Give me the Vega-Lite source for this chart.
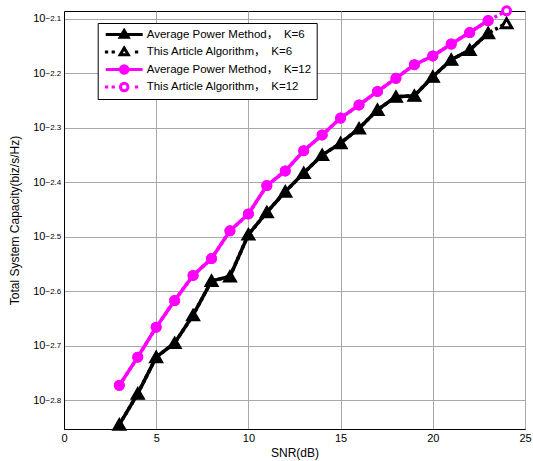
{
 "$schema": "https://vega.github.io/schema/vega-lite/v6.json",
 "width": 461, "height": 418,
 "autosize": {"type": "none"},
 "padding": {"left": 64, "top": 11, "right": 8, "bottom": 32},
 "background": "white",
 "datasets": {"pts": [
  {"snr":3,"series":"Average Power Method，　K=6","capacity":0.001429},
  {"snr":4,"series":"Average Power Method，　K=6","capacity":0.001629},
  {"snr":5,"series":"Average Power Method，　K=6","capacity":0.001901},
  {"snr":6,"series":"Average Power Method，　K=6","capacity":0.002018},
  {"snr":7,"series":"Average Power Method，　K=6","capacity":0.002270},
  {"snr":8,"series":"Average Power Method，　K=6","capacity":0.002624},
  {"snr":9,"series":"Average Power Method，　K=6","capacity":0.002673},
  {"snr":10,"series":"Average Power Method，　K=6","capacity":0.003192},
  {"snr":11,"series":"Average Power Method，　K=6","capacity":0.003508},
  {"snr":12,"series":"Average Power Method，　K=6","capacity":0.003828},
  {"snr":13,"series":"Average Power Method，　K=6","capacity":0.004140},
  {"snr":14,"series":"Average Power Method，　K=6","capacity":0.004467},
  {"snr":15,"series":"Average Power Method，　K=6","capacity":0.004699},
  {"snr":16,"series":"Average Power Method，　K=6","capacity":0.005000},
  {"snr":17,"series":"Average Power Method，　K=6","capacity":0.005408},
  {"snr":18,"series":"Average Power Method，　K=6","capacity":0.005715},
  {"snr":19,"series":"Average Power Method，　K=6","capacity":0.005741},
  {"snr":20,"series":"Average Power Method，　K=6","capacity":0.006223},
  {"snr":21,"series":"Average Power Method，　K=6","capacity":0.006683},
  {"snr":22,"series":"Average Power Method，　K=6","capacity":0.006966},
  {"snr":23,"series":"Average Power Method，　K=6","capacity":0.007482},
  {"snr":3,"series":"This Article Algorithm，　K=6","capacity":0.001429},
  {"snr":4,"series":"This Article Algorithm，　K=6","capacity":0.001629},
  {"snr":5,"series":"This Article Algorithm，　K=6","capacity":0.001901},
  {"snr":6,"series":"This Article Algorithm，　K=6","capacity":0.002018},
  {"snr":7,"series":"This Article Algorithm，　K=6","capacity":0.002270},
  {"snr":8,"series":"This Article Algorithm，　K=6","capacity":0.002624},
  {"snr":9,"series":"This Article Algorithm，　K=6","capacity":0.002673},
  {"snr":10,"series":"This Article Algorithm，　K=6","capacity":0.003192},
  {"snr":11,"series":"This Article Algorithm，　K=6","capacity":0.003508},
  {"snr":12,"series":"This Article Algorithm，　K=6","capacity":0.003828},
  {"snr":13,"series":"This Article Algorithm，　K=6","capacity":0.004140},
  {"snr":14,"series":"This Article Algorithm，　K=6","capacity":0.004467},
  {"snr":15,"series":"This Article Algorithm，　K=6","capacity":0.004699},
  {"snr":16,"series":"This Article Algorithm，　K=6","capacity":0.005000},
  {"snr":17,"series":"This Article Algorithm，　K=6","capacity":0.005408},
  {"snr":18,"series":"This Article Algorithm，　K=6","capacity":0.005715},
  {"snr":19,"series":"This Article Algorithm，　K=6","capacity":0.005741},
  {"snr":20,"series":"This Article Algorithm，　K=6","capacity":0.006223},
  {"snr":21,"series":"This Article Algorithm，　K=6","capacity":0.006683},
  {"snr":22,"series":"This Article Algorithm，　K=6","capacity":0.006966},
  {"snr":23,"series":"This Article Algorithm，　K=6","capacity":0.007482},
  {"snr":24,"series":"This Article Algorithm，　K=6","capacity":0.007798},
  {"snr":3,"series":"Average Power Method，　K=12","capacity":0.001687},
  {"snr":4,"series":"Average Power Method，　K=12","capacity":0.001901},
  {"snr":5,"series":"Average Power Method，　K=12","capacity":0.002158},
  {"snr":6,"series":"Average Power Method，　K=12","capacity":0.002415},
  {"snr":7,"series":"Average Power Method，　K=12","capacity":0.002685},
  {"snr":8,"series":"Average Power Method，　K=12","capacity":0.002884},
  {"snr":9,"series":"Average Power Method，　K=12","capacity":0.003243},
  {"snr":10,"series":"Average Power Method，　K=12","capacity":0.003483},
  {"snr":11,"series":"Average Power Method，　K=12","capacity":0.003926},
  {"snr":12,"series":"Average Power Method，　K=12","capacity":0.004178},
  {"snr":13,"series":"Average Power Method，　K=12","capacity":0.004550},
  {"snr":14,"series":"Average Power Method，　K=12","capacity":0.004864},
  {"snr":15,"series":"Average Power Method，　K=12","capacity":0.005224},
  {"snr":16,"series":"Average Power Method，　K=12","capacity":0.005521},
  {"snr":17,"series":"Average Power Method，　K=12","capacity":0.005848},
  {"snr":18,"series":"Average Power Method，　K=12","capacity":0.006180},
  {"snr":19,"series":"Average Power Method，　K=12","capacity":0.006546},
  {"snr":20,"series":"Average Power Method，　K=12","capacity":0.006792},
  {"snr":21,"series":"Average Power Method，　K=12","capacity":0.007145},
  {"snr":22,"series":"Average Power Method，　K=12","capacity":0.007499},
  {"snr":23,"series":"Average Power Method，　K=12","capacity":0.007889},
  {"snr":3,"series":"This Article Algorithm，　K=12","capacity":0.001687},
  {"snr":4,"series":"This Article Algorithm，　K=12","capacity":0.001901},
  {"snr":5,"series":"This Article Algorithm，　K=12","capacity":0.002158},
  {"snr":6,"series":"This Article Algorithm，　K=12","capacity":0.002415},
  {"snr":7,"series":"This Article Algorithm，　K=12","capacity":0.002685},
  {"snr":8,"series":"This Article Algorithm，　K=12","capacity":0.002884},
  {"snr":9,"series":"This Article Algorithm，　K=12","capacity":0.003243},
  {"snr":10,"series":"This Article Algorithm，　K=12","capacity":0.003483},
  {"snr":11,"series":"This Article Algorithm，　K=12","capacity":0.003926},
  {"snr":12,"series":"This Article Algorithm，　K=12","capacity":0.004178},
  {"snr":13,"series":"This Article Algorithm，　K=12","capacity":0.004550},
  {"snr":14,"series":"This Article Algorithm，　K=12","capacity":0.004864},
  {"snr":15,"series":"This Article Algorithm，　K=12","capacity":0.005224},
  {"snr":16,"series":"This Article Algorithm，　K=12","capacity":0.005521},
  {"snr":17,"series":"This Article Algorithm，　K=12","capacity":0.005848},
  {"snr":18,"series":"This Article Algorithm，　K=12","capacity":0.006180},
  {"snr":19,"series":"This Article Algorithm，　K=12","capacity":0.006546},
  {"snr":20,"series":"This Article Algorithm，　K=12","capacity":0.006792},
  {"snr":21,"series":"This Article Algorithm，　K=12","capacity":0.007145},
  {"snr":22,"series":"This Article Algorithm，　K=12","capacity":0.007499},
  {"snr":23,"series":"This Article Algorithm，　K=12","capacity":0.007889},
  {"snr":24,"series":"This Article Algorithm，　K=12","capacity":0.008220}
 ]},
 "data": {"name": "pts"},
 "layer": [
  {
   "transform": [{"filter": "datum.snr < 0"}],
   "mark": {"type": "point", "filled": true, "size": 100, "strokeWidth": 3, "opacity": 1},
   "encoding": {
    "x": {"field": "snr", "type": "quantitative", "title": "SNR(dB)", "scale": {"domain": [0, 25], "nice": false, "zero": false}, "axis": {"values": [0, 5, 10, 15, 20, 25]}},
    "y": {"field": "capacity", "type": "quantitative", "scale": {"type": "log", "domain": [0.0014028, 0.008215], "nice": false}, "axis": null},
    "shape": {"field": "series", "type": "nominal", "legend": {"title": null},
     "scale": {"domain": ["Average Power Method，　K=6", "This Article Algorithm，　K=6", "Average Power Method，　K=12", "This Article Algorithm，　K=12"],
      "range": [
       "M-3.7,0H3.7M0,-0.8L0.8,0.55L-0.8,0.55Z",
       "M-3.86,0H-3.2M-2.52,0H-1.86M2.14,0H2.8M0,-0.8L0.8,0.55L-0.8,0.55Z",
       "M-3.7,0H3.7M-0.75,0A0.75,0.75,0,1,1,0.75,0A0.75,0.75,0,1,1,-0.75,0Z",
       "M-3.86,0H-3.2M-2.52,0H-1.86M2.14,0H2.8M-0.75,0A0.75,0.75,0,1,1,0.75,0A0.75,0.75,0,1,1,-0.75,0Z"]}},
    "stroke": {"field": "series", "type": "nominal", "legend": {"title": null},
     "scale": {"domain": ["Average Power Method，　K=6", "This Article Algorithm，　K=6", "Average Power Method，　K=12", "This Article Algorithm，　K=12"],
      "range": ["#000000", "#000000", "#ff00ff", "#ff00ff"]}},
    "fill": {"field": "series", "type": "nominal", "legend": {"title": null},
     "scale": {"domain": ["Average Power Method，　K=6", "This Article Algorithm，　K=6", "Average Power Method，　K=12", "This Article Algorithm，　K=12"],
      "range": ["#000000", "#ffffff", "#ff00ff", "#ffffff"]}}
   }
  },
  {
   "transform": [{"filter": "indexof(datum.series, 'This') == 0"}],
   "mark": {"type": "line", "strokeWidth": 3.5, "strokeDash": [3, 3]},
   "encoding": {
    "x": {"field": "snr", "type": "quantitative", "title": "SNR(dB)", "scale": {"domain": [0, 25], "nice": false, "zero": false}, "axis": {"values": [0, 5, 10, 15, 20, 25]}},
    "y": {"field": "capacity", "type": "quantitative", "scale": {"type": "log", "domain": [0.0014028, 0.008215], "nice": false}, "axis": null},
    "color": {"field": "series", "type": "nominal", "legend": null,
     "scale": {"domain": ["Average Power Method，　K=6", "This Article Algorithm，　K=6", "Average Power Method，　K=12", "This Article Algorithm，　K=12"],
      "range": ["#000000", "#000000", "#ff00ff", "#ff00ff"]}}
   }
  },
  {
   "transform": [{"filter": "datum.series == 'This Article Algorithm，　K=6'"}],
   "mark": {"type": "point", "shape": "triangle-up", "filled": false, "fill": "#ffffff", "fillOpacity": 1, "stroke": "#000000", "opacity": 1, "strokeWidth": 3, "size": 110, "clip": false},
   "encoding": {
    "x": {"field": "snr", "type": "quantitative", "title": "SNR(dB)", "scale": {"domain": [0, 25], "nice": false, "zero": false}, "axis": {"values": [0, 5, 10, 15, 20, 25]}},
    "y": {"field": "capacity", "type": "quantitative", "scale": {"type": "log", "domain": [0.0014028, 0.008215], "nice": false}, "axis": null}
   }
  },
  {
   "transform": [{"filter": "datum.series == 'This Article Algorithm，　K=12'"}],
   "mark": {"type": "point", "shape": "circle", "filled": false, "fill": "#ffffff", "fillOpacity": 1, "stroke": "#ff00ff", "opacity": 1, "strokeWidth": 3, "size": 64, "clip": false},
   "encoding": {
    "x": {"field": "snr", "type": "quantitative", "title": "SNR(dB)", "scale": {"domain": [0, 25], "nice": false, "zero": false}, "axis": {"values": [0, 5, 10, 15, 20, 25]}},
    "y": {"field": "capacity", "type": "quantitative", "scale": {"type": "log", "domain": [0.0014028, 0.008215], "nice": false}, "axis": null}
   }
  },
  {
   "transform": [{"filter": "indexof(datum.series, 'Average') == 0"}],
   "mark": {"type": "line", "strokeWidth": 3.5},
   "encoding": {
    "x": {"field": "snr", "type": "quantitative", "title": "SNR(dB)", "scale": {"domain": [0, 25], "nice": false, "zero": false}, "axis": {"values": [0, 5, 10, 15, 20, 25]}},
    "y": {"field": "capacity", "type": "quantitative", "scale": {"type": "log", "domain": [0.0014028, 0.008215], "nice": false},
     "axis": {"orient": "left", "values": [0.0015849, 0.0019953, 0.0025119, 0.0031623, 0.0039811, 0.0050119, 0.0063096, 0.0079433],
      "labelExpr": "'10'", "grid": true, "ticks": false, "labelPadding": 19, "labelFontSize": 11, "labelDy": -1.5, "labelOverlap": false,
      "title": "Total System Capacity(biz/s/Hz)", "titleX": -50, "titleY": 209, "titleBaseline": "middle", "titleAngle": 270}},
    "color": {"field": "series", "type": "nominal", "legend": null,
     "scale": {"domain": ["Average Power Method，　K=6", "This Article Algorithm，　K=6", "Average Power Method，　K=12", "This Article Algorithm，　K=12"],
      "range": ["#000000", "#000000", "#ff00ff", "#ff00ff"]}}
   }
  },
  {
   "transform": [{"filter": "datum.series == 'Average Power Method，　K=6'"}],
   "mark": {"type": "point", "shape": "triangle-up", "filled": true, "color": "#000000", "opacity": 1, "strokeWidth": 1.5, "stroke": "#000000", "size": 120, "clip": false},
   "encoding": {
    "x": {"field": "snr", "type": "quantitative", "title": "SNR(dB)", "scale": {"domain": [0, 25], "nice": false, "zero": false}, "axis": {"values": [0, 5, 10, 15, 20, 25]}},
    "y": {"field": "capacity", "type": "quantitative", "scale": {"type": "log", "domain": [0.0014028, 0.008215], "nice": false},
     "axis": {"orient": "left", "values": [0.0015849, 0.0019953, 0.0025119, 0.0031623, 0.0039811, 0.0050119, 0.0063096, 0.0079433],
      "labelExpr": "format(log(datum.value)/LN10, '.1f')", "grid": false, "ticks": false, "domain": false, "labelAlign": "left",
      "labelPadding": 19, "labelFontSize": 8, "labelDy": -6, "labelOverlap": false, "title": null}}
   }
  },
  {
   "transform": [{"filter": "datum.series == 'Average Power Method，　K=12'"}],
   "mark": {"type": "point", "shape": "circle", "filled": true, "color": "#ff00ff", "opacity": 1, "strokeWidth": 1.5, "stroke": "#ff00ff", "size": 90, "clip": false},
   "encoding": {
    "x": {"field": "snr", "type": "quantitative", "title": "SNR(dB)", "scale": {"domain": [0, 25], "nice": false, "zero": false}, "axis": {"values": [0, 5, 10, 15, 20, 25]}},
    "y": {"field": "capacity", "type": "quantitative", "scale": {"type": "log", "domain": [0.0014028, 0.008215], "nice": false}, "axis": null}
   }
  }
 ],
 "resolve": {"axis": {"y": "independent"}},
 "config": {
  "font": "Liberation Sans",
  "view": {"stroke": "#000000", "strokeWidth": 1},
  "axis": {"labelColor": "#000000", "titleColor": "#000000", "domainColor": "#000000", "domainWidth": 1,
   "gridColor": "#a8a8a8", "gridWidth": 1, "labelFontSize": 11, "titleFontSize": 12, "titleFontWeight": "normal",
   "labelFont": "Liberation Sans", "titleFont": "Liberation Sans"},
  "axisX": {"grid": true, "ticks": false, "labelPadding": 3, "titlePadding": 4, "labelFlush": false},
  "legend": {"orient": "none", "legendX": 33.7, "legendY": 12, "padding": 5, "strokeColor": "#000000", "fillColor": "#ffffff",
   "symbolOffset": 15, "labelOffset": 16, "rowPadding": 4.5, "clipHeight": 13, "labelFontSize": 11.5, "labelFont": "Liberation Sans, Noto Sans CJK SC",
   "labelColor": "#000000", "symbolStrokeWidth": 3, "symbolSize": 100, "symbolOpacity": 1, "labelLimit": 0}
 }
}
